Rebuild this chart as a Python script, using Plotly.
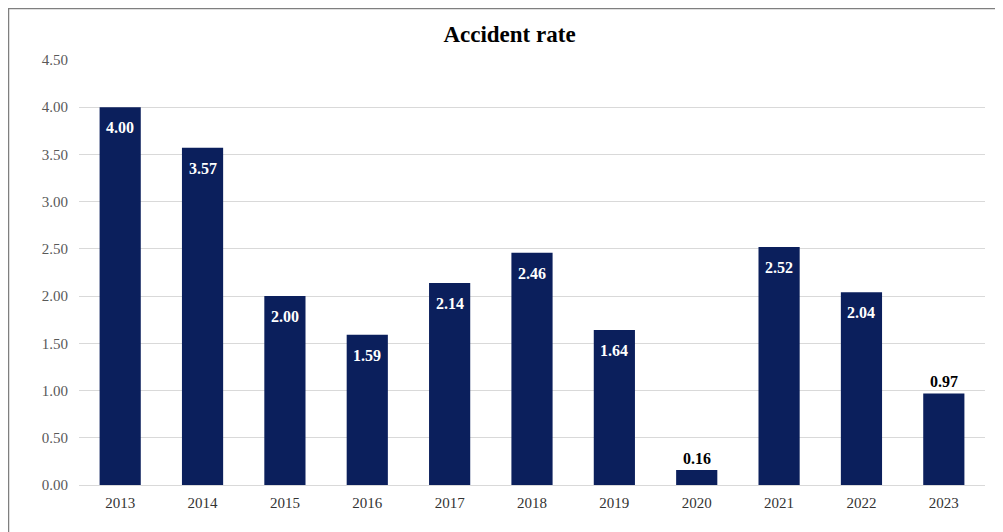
import plotly.graph_objects as go

years = ["2013", "2014", "2015", "2016", "2017", "2018", "2019", "2020", "2021", "2022", "2023"]
rates = [4.00, 3.57, 2.00, 1.59, 2.14, 2.46, 1.64, 0.16, 2.52, 2.04, 0.97]
label_inside = [True, True, True, True, True, True, True, False, True, True, False]

fig = go.Figure(go.Bar(
    x=years, y=rates,
    marker=dict(color="#0b1f5c", line=dict(width=0)),
    hoverinfo="x+y",
))

annotations = []
for i, (v, inside) in enumerate(zip(rates, label_inside)):
    annotations.append(dict(
        x=i, y=v, xref="x", yref="y", text=f"<b>{v:.2f}</b>", showarrow=False,
        yanchor="top" if inside else "bottom",
        yshift=-10 if inside else 1,
        font=dict(family="Liberation Serif", size=16, color="white" if inside else "black"),
    ))

# frame lines (top and left only, as in the cropped reference)
L, R, T, B, W, H = 71, 26, 52, 55, 1003, 532
pw, ph = W - L - R, H - T - B
def px(fx):
    return (fx - L) / pw
def py(fy):
    return (H - B - fy) / ph

frame = [
    dict(type="line", xref="paper", yref="paper", x0=px(0), x1=px(W), y0=py(0.5), y1=py(0.5),
         line=dict(color="#7f7f7f", width=1.5)),
    dict(type="line", xref="paper", yref="paper", x0=px(0.5), x1=px(0.5), y0=py(0), y1=py(H),
         line=dict(color="#7f7f7f", width=1.5)),
]

fig.update_layout(
    width=W, height=H,
    margin=dict(l=L, r=R, t=T, b=B),
    paper_bgcolor="white", plot_bgcolor="white",
    bargap=0.5,
    showlegend=False,
    annotations=annotations,
    title=dict(text="<b>Accident rate</b>", x=0.5, xanchor="center", y=0.951, yanchor="middle",
               font=dict(family="Liberation Serif", size=23, color="black")),
    xaxis=dict(type="category", categoryorder="array", categoryarray=years,
               showgrid=False, showline=True, linecolor="#d9d9d9", linewidth=1,
               ticks="", ticklabelstandoff=4,
               tickfont=dict(family="Liberation Serif", size=15, color="#333333")),
    yaxis=dict(range=[0, 4.5], dtick=0.5, tick0=0, tickformat=".2f", showgrid=True,
               gridcolor="#d9d9d9", gridwidth=1, zeroline=False, showline=False, ticks="",
               ticklabelstandoff=10,
               tickfont=dict(family="Liberation Serif", size=15, color="#595959")),
    shapes=frame,
)

fig.write_html("out.html")
